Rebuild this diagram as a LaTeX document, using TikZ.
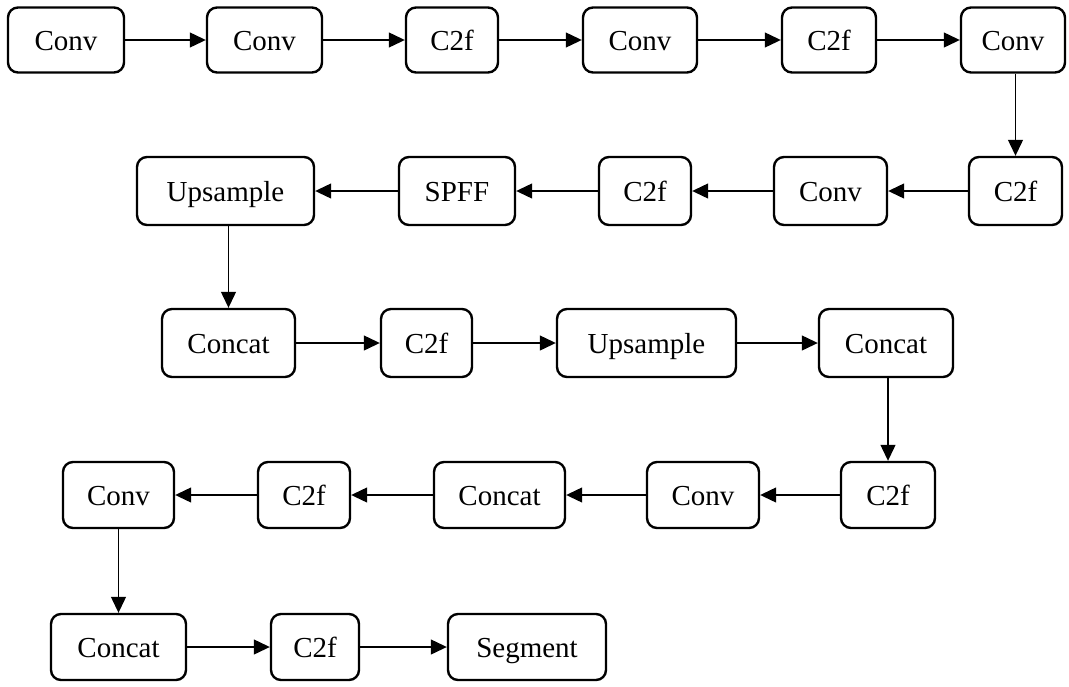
\documentclass[tikz,border=0pt]{standalone}
\usepackage{fontspec}
\setmainfont{Liberation Serif}
\usetikzlibrary{arrows.meta}
\begin{document}
\begin{tikzpicture}[x=1pt,y=-1pt,
  box/.style={draw, line width=2.4pt, rounded corners=10pt, inner sep=0pt,
    text height=20pt, text depth=0pt,
    font=\fontsize{29}{34}\selectfont},
  conn/.style={line width=1.2pt, -{Triangle[length=16pt,width=15pt]}}]
\useasboundingbox (0,0) rectangle (1069,686);
% row 1
\node[box, minimum width=116pt, minimum height=65pt] (a1) at (66,40) {Conv};
\node[box, minimum width=115pt, minimum height=65pt] (a2) at (264.5,40) {Conv};
\node[box, minimum width=92pt, minimum height=65pt] (a3) at (452,40) {C2f};
\node[box, minimum width=114pt, minimum height=65pt] (a4) at (640,40) {Conv};
\node[box, minimum width=94pt, minimum height=65pt] (a5) at (829,40) {C2f};
\node[box, minimum width=104pt, minimum height=65pt] (a6) at (1013,40) {Conv};
% row 2
\node[box, minimum width=177pt, minimum height=68pt] (b5) at (225.5,191) {Upsample};
\node[box, minimum width=116pt, minimum height=68pt] (b4) at (457,191) {SPFF};
\node[box, minimum width=92pt, minimum height=68pt] (b3) at (645,191) {C2f};
\node[box, minimum width=113pt, minimum height=68pt] (b2) at (830.5,191) {Conv};
\node[box, minimum width=93pt, minimum height=68pt] (b1) at (1015.5,191) {C2f};
% row 3
\node[box, minimum width=133pt, minimum height=68pt] (c1) at (228.5,343) {Concat};
\node[box, minimum width=91pt, minimum height=68pt] (c2) at (426.5,343) {C2f};
\node[box, minimum width=179pt, minimum height=68pt] (c3) at (646.5,343) {Upsample};
\node[box, minimum width=134pt, minimum height=68pt] (c4) at (886,343) {Concat};
% row 4
\node[box, minimum width=111pt, minimum height=66pt] (d5) at (118.5,495) {Conv};
\node[box, minimum width=92pt, minimum height=66pt] (d4) at (304,495) {C2f};
\node[box, minimum width=131pt, minimum height=66pt] (d3) at (499.5,495) {Concat};
\node[box, minimum width=112pt, minimum height=66pt] (d2) at (703,495) {Conv};
\node[box, minimum width=94pt, minimum height=66pt] (d1) at (888,495) {C2f};
% row 5
\node[box, minimum width=135pt, minimum height=66pt] (e1) at (118.5,647) {Concat};
\node[box, minimum width=88pt, minimum height=66pt] (e2) at (315,647) {C2f};
\node[box, minimum width=158pt, minimum height=66pt] (e3) at (527,647) {Segment};
% connectors
\draw[conn] (a1) -- (a2);
\draw[conn] (a2) -- (a3);
\draw[conn] (a3) -- (a4);
\draw[conn] (a4) -- (a5);
\draw[conn] (a5) -- (a6);
\draw[conn] (a6.south -| b1.north) -- (b1.north);
\draw[conn] (b1) -- (b2);
\draw[conn] (b2) -- (b3);
\draw[conn] (b3) -- (b4);
\draw[conn] (b4) -- (b5);
\draw[conn] (b5.south -| c1.north) -- (c1.north);
\draw[conn] (c1) -- (c2);
\draw[conn] (c2) -- (c3);
\draw[conn] (c3) -- (c4);
\draw[conn] (c4.south -| d1.north) -- (d1.north);
\draw[conn] (d1) -- (d2);
\draw[conn] (d2) -- (d3);
\draw[conn] (d3) -- (d4);
\draw[conn] (d4) -- (d5);
\draw[conn] (d5.south -| e1.north) -- (e1.north);
\draw[conn] (e1) -- (e2);
\draw[conn] (e2) -- (e3);
\end{tikzpicture}
\end{document}
